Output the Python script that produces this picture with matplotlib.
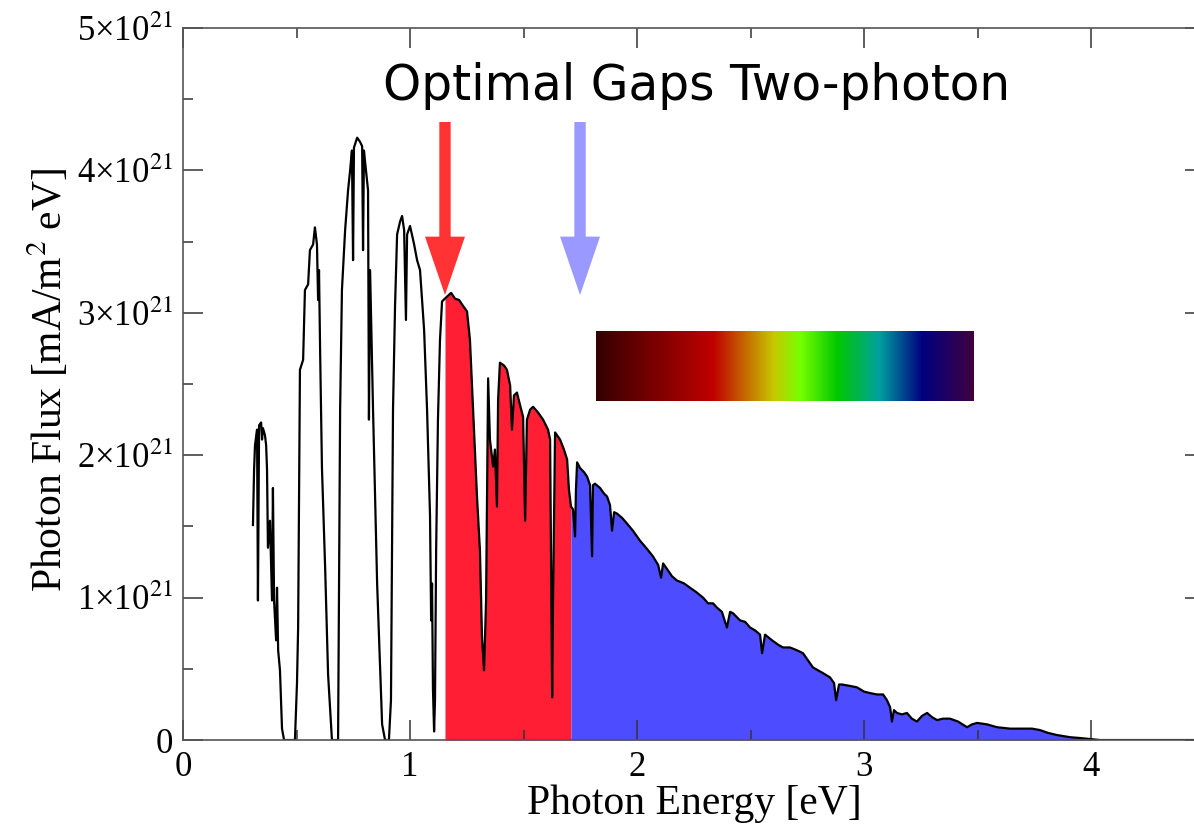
import numpy as np
import matplotlib
matplotlib.use('Agg')
import matplotlib.pyplot as plt
from matplotlib.colors import LinearSegmentedColormap
from matplotlib.ticker import MultipleLocator, FuncFormatter

# spectrum: photon energy [eV], flux [1e21 mA/m^2 eV]
energy_ev = [
    0.308, 0.313, 0.317, 0.326, 0.330, 0.335, 0.344, 0.348, 0.352, 0.361,
    0.366, 0.370, 0.374, 0.383, 0.392, 0.396, 0.401, 0.410, 0.414, 0.419,
    0.427, 0.436, 0.445, 0.493,
    0.502, 0.507, 0.511, 0.515, 0.529, 0.537, 0.551, 0.559, 0.573, 0.581,
    0.590, 0.595, 0.599, 0.604, 0.612, 0.626, 0.639, 0.656, 0.683,
    0.692, 0.700, 0.714, 0.727, 0.736, 0.744, 0.749, 0.753, 0.767, 0.780,
    0.789, 0.793, 0.797, 0.802, 0.815, 0.819, 0.824, 0.837, 0.855, 0.877,
    0.890, 0.907,
    0.916, 0.925, 0.934, 0.943, 0.956, 0.965, 0.974, 0.982, 0.987, 1.000,
    1.018, 1.031, 1.044, 1.062, 1.075, 1.088, 1.093, 1.097, 1.101, 1.106,
    1.110, 1.115, 1.123, 1.132, 1.141,
    1.154, 1.167, 1.181, 1.198, 1.216, 1.233, 1.251, 1.264, 1.278, 1.295,
    1.308, 1.317, 1.326, 1.335, 1.339, 1.344, 1.352, 1.366, 1.374, 1.383,
    1.388, 1.396, 1.414, 1.427, 1.441, 1.449, 1.458, 1.471, 1.485, 1.498,
    1.507, 1.515, 1.529, 1.542, 1.564, 1.586, 1.608, 1.617, 1.626, 1.630,
    1.639, 1.661, 1.678, 1.692, 1.700, 1.709,
    1.718, 1.727, 1.731, 1.736, 1.749, 1.767, 1.780, 1.793, 1.802, 1.806,
    1.815, 1.837, 1.855, 1.868, 1.881, 1.890, 1.899, 1.912, 1.934, 1.956,
    1.982, 2.013, 2.040, 2.070, 2.093, 2.106, 2.115, 2.137, 2.154, 2.176,
    2.207, 2.233, 2.260, 2.291, 2.313, 2.335, 2.352, 2.374, 2.396, 2.410,
    2.423, 2.454, 2.476, 2.498, 2.520, 2.542, 2.551, 2.564, 2.595, 2.621,
    2.643, 2.674, 2.705, 2.731, 2.753, 2.775, 2.797, 2.819, 2.850, 2.868,
    2.877, 2.890, 2.903, 2.938, 2.969, 3.000, 3.026, 3.057, 3.084, 3.101,
    3.115, 3.123, 3.132, 3.145, 3.167, 3.189, 3.211, 3.233, 3.256, 3.278,
    3.300, 3.322, 3.348, 3.379, 3.414, 3.454, 3.476, 3.498, 3.542, 3.586,
    3.643, 3.700, 3.740, 3.775, 3.811, 3.850, 3.907, 3.952, 3.996, 4.040,
    4.500,
]
flux_1e21 = [
    1.51, 1.90, 2.07, 2.18, 0.98, 2.21, 2.23, 2.11, 2.19, 2.14,
    2.07, 1.90, 1.35, 1.54, 0.98, 1.77, 0.98, 0.70, 1.07, 0.63,
    0.49, 0.08, 0.00, 0.00,
    0.40, 0.79, 1.69, 2.60, 2.67, 3.16, 3.20, 3.44, 3.48, 3.60,
    3.48, 3.09, 3.30, 2.72, 1.91, 1.21, 0.46, 0.00, 0.00,
    2.32, 3.16, 3.58, 3.86, 4.00, 4.14, 3.37, 4.16, 4.23, 4.20,
    4.17, 3.44, 4.14, 4.06, 3.86, 2.25, 3.30, 2.32, 1.10, 0.11,
    0.00, 0.00,
    0.28, 2.32, 3.05, 3.55, 3.64, 3.68, 3.58, 2.95, 3.55, 3.61,
    3.48, 3.37, 3.30, 2.88, 2.32, 1.58, 0.84, 1.10, 0.36, 0.06,
    0.28, 1.33, 2.25, 2.81, 3.08,
    3.10, 3.12, 3.14, 3.10, 3.09, 3.05, 3.01, 2.81, 2.32, 1.71,
    1.33, 0.72, 0.49, 0.98, 1.69, 2.54, 2.11, 1.92, 2.04, 1.64,
    2.39, 2.65, 2.63, 2.60, 2.49, 2.18, 2.42, 2.44, 2.35, 2.27,
    1.54, 2.25, 2.32, 2.34, 2.30, 2.25, 2.18, 2.11, 0.30, 0.98,
    2.16, 2.11, 2.04, 1.97, 1.76, 1.64,
    1.62, 1.43, 1.76, 1.95, 1.91, 1.88, 1.85, 1.79, 1.29, 1.79,
    1.80, 1.77, 1.73, 1.71, 1.65, 1.47, 1.60, 1.59, 1.56, 1.52,
    1.47, 1.40, 1.35, 1.29, 1.23, 1.14, 1.24, 1.19, 1.15, 1.12,
    1.10, 1.07, 1.04, 1.00, 0.96, 0.96, 0.93, 0.90, 0.79, 0.90,
    0.89, 0.84, 0.83, 0.79, 0.77, 0.74, 0.61, 0.74, 0.70, 0.67,
    0.65, 0.65, 0.63, 0.61, 0.56, 0.51, 0.49, 0.47, 0.44, 0.40,
    0.28, 0.39, 0.39, 0.38, 0.37, 0.34, 0.33, 0.32, 0.32, 0.28,
    0.23, 0.13, 0.21, 0.19, 0.18, 0.19, 0.15, 0.13, 0.17, 0.19,
    0.16, 0.14, 0.15, 0.15, 0.13, 0.09, 0.11, 0.12, 0.11, 0.09,
    0.08, 0.08, 0.08, 0.07, 0.05, 0.035, 0.02, 0.014, 0.007, 0.0,
    0.0,
]

# the two optimal gaps (eV)
gap_low = 1.154
gap_high = 1.709

# spectrum strip: stop positions and colours
strip_stops = [0.0, 0.31, 0.47, 0.54, 0.64, 0.75, 0.865, 1.0]
strip_colors = ['#350000', '#c00000', '#c8c800', '#77ff00',
                '#00c800', '#00a0a0', '#000080', '#400040']

title = 'Optimal Gaps Two-photon'

plt.rcParams['font.family'] = ['Liberation Serif', 'DejaVu Serif']
plt.rcParams['mathtext.fontset'] = 'stix'

fig = plt.figure(figsize=(11.94, 8.24), dpi=100)
ax = fig.add_axes([0.1533, 0.1019, 0.8555, 0.8641])

E = np.array(energy_ev)
F = np.array(flux_1e21)

red_mask = (E >= gap_low) & (E <= gap_high)
blue_mask = E >= gap_high
ax.fill_between(E, 0, F, where=red_mask, color='#ff1e34', lw=0, zorder=1)
ax.fill_between(E, 0, F, where=blue_mask, color='#4d4dff', lw=0, zorder=1)
ax.plot(E, F, color='black', lw=1.6, zorder=2)

# arrows pointing at the gaps
ax.arrow(gap_low, 4.34, 0, 3.125 - 4.34, width=0.05, head_width=0.176,
         head_length=0.41, length_includes_head=True, color='#ff3333',
         lw=0, zorder=4)
ax.arrow(1.749, 4.34, 0, 3.125 - 4.34, width=0.05, head_width=0.176,
         head_length=0.41, length_includes_head=True, color='#9999ff',
         lw=0, zorder=4)

cmap = LinearSegmentedColormap.from_list('strip', list(zip(strip_stops, strip_colors)))
grad = np.linspace(0, 1, 512).reshape(1, -1)
ax.imshow(grad, cmap=cmap, extent=(1.82, 3.485, 2.38, 2.87), aspect='auto',
          zorder=3, interpolation='bilinear')

ax.text(2.262, 4.494, title, family='DejaVu Sans', fontsize=35,
        ha='center', va='baseline', zorder=5)

ax.set_xlim(0, 4.5)
ax.set_ylim(0, 5)
ax.xaxis.set_major_locator(MultipleLocator(1))
ax.xaxis.set_minor_locator(MultipleLocator(0.5))
ax.yaxis.set_major_locator(MultipleLocator(1))
ax.yaxis.set_minor_locator(MultipleLocator(0.5))
ax.xaxis.set_major_formatter(FuncFormatter(lambda v, p: f'{v:.0f}'))
ax.yaxis.set_major_formatter(FuncFormatter(
    lambda v, p: '0' if v == 0 else f'{v:.0f}×10$^{{21}}$'))

ax.tick_params(which='both', direction='in', top=True, right=True,
               color='#333333', width=1.1, labelsize=25)
ax.tick_params(which='major', length=14.5)
ax.tick_params(which='minor', length=7)
ax.tick_params(axis='x', pad=8)
ax.tick_params(axis='y', pad=7)
for s in ax.spines.values():
    s.set_color('#555555')
    s.set_linewidth(1.2)

ax.set_xlabel('Photon Energy [eV]', fontsize=30)
ax.set_ylabel('Photon Flux [mA/m$^2$ eV]', fontsize=30)
ax.xaxis.set_label_coords(0.501, -0.063)
ax.yaxis.set_label_coords(-0.11, 0.506)

fig.savefig('out.png', dpi=100, facecolor='white')
